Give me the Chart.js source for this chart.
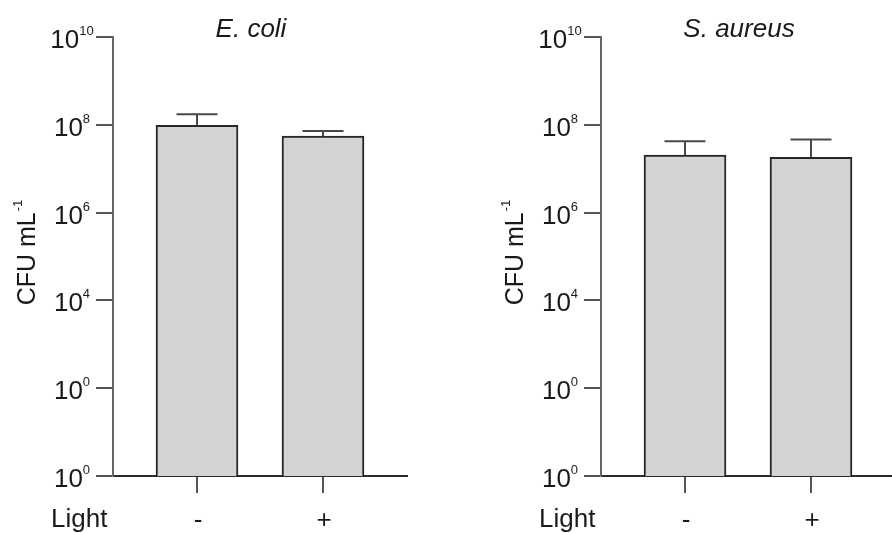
<!DOCTYPE html>
<html>
<head>
<meta charset="utf-8">
<script src="https://cdn.jsdelivr.net/npm/chart.js@4.4.1/dist/chart.umd.min.js"></script>
<style>
  html, body { margin: 0; padding: 0; background: #fff; }
  body { width: 892px; height: 533px; overflow: hidden; position: relative; }
  .panel { position: absolute; top: 0; width: 488px; height: 533px; }
</style>
</head>
<body>
<div class="panel" style="left:0"><canvas id="ecoliChart" width="488" height="533"></canvas></div>
<div class="panel" style="left:488px"><canvas id="aureusChart" width="488" height="533"></canvas></div>
<script>
  // values
  const lightLabels = ['-', '+'];
  const lightPositions = [0, 1];
  const ecoliMeans = [9.7e7, 5.5e7];
  const ecoliErrTops = [1.73e8, 7.2e7];
  const aureusMeans = [2.05e7, 1.82e7];
  const aureusErrTops = [4.2e7, 4.6e7];
  const yTickValues = [1, 1e2, 1e4, 1e6, 1e8, 1e10];
  const yTickExponents = ['0', '0', '4', '6', '8', '10'];

  const FONT = '"Liberation Sans", Arial, Helvetica, sans-serif';
  const TEXT = '#1a1a1a';

  // draws the tick labels with superscripts, axis titles and error bars
  const panelText = {
    id: 'panelText',
    afterDraw(chart, args, opts) {
      const ctx = chart.ctx;
      const y = chart.scales.y;
      const x = chart.scales.x;
      ctx.save();

      // error bars (upper only)
      const meta = chart.getDatasetMeta(0);
      ctx.strokeStyle = '#484848';
      ctx.lineWidth = 2;
      meta.data.forEach((bar, i) => {
        const top = y.getPixelForValue(opts.errTops[i]);
        ctx.beginPath();
        ctx.moveTo(bar.x, bar.y);
        ctx.lineTo(bar.x, top);
        ctx.moveTo(bar.x - 20.5, top);
        ctx.lineTo(bar.x + 20.5, top);
        ctx.stroke();
      });

      ctx.fillStyle = TEXT;
      ctx.textBaseline = 'alphabetic';
      ctx.textAlign = 'left';

      // y tick labels 10^n
      yTickValues.forEach((v, i) => {
        const py = y.getPixelForValue(v);
        ctx.font = '13px ' + FONT;
        const ew = ctx.measureText(yTickExponents[i]).width;
        ctx.font = '26px ' + FONT;
        const bw = ctx.measureText('10').width;
        const start = 72 - (bw + ew) / 2;
        ctx.fillText('10', start, py + 11);
        ctx.font = '13px ' + FONT;
        ctx.fillText(yTickExponents[i], start + bw, py - 2);
      });

      // x tick labels
      ctx.font = '26px ' + FONT;
      ctx.textAlign = 'center';
      lightPositions.forEach((v, i) => {
        ctx.fillText(lightLabels[i], x.getPixelForValue(v) + 1, 528);
      });
      ctx.textAlign = 'left';
      ctx.fillText('Light', 51, 527);

      // y axis title
      ctx.save();
      ctx.font = '25px ' + FONT;
      const mw = ctx.measureText('CFU mL').width;
      ctx.font = '13px ' + FONT;
      const sw = ctx.measureText('-1').width;
      ctx.translate(35, 253 + (mw + sw) / 2);
      ctx.rotate(-Math.PI / 2);
      ctx.font = '25px ' + FONT;
      ctx.fillText('CFU mL', 0, 0);
      ctx.font = '13px ' + FONT;
      ctx.fillText('-1', mw + 1, -13);
      ctx.restore();

      // panel title
      ctx.font = 'italic 26px ' + FONT;
      ctx.textAlign = 'center';
      ctx.fillText(opts.title, 251, 37);

      ctx.restore();
    }
  };

  function makePanel(id, title, means, errTops) {
    const ctx = document.getElementById(id).getContext('2d');
    return new Chart(ctx, {
      type: 'bar',
      data: {
        datasets: [{
          data: lightPositions.map((p, i) => ({ x: p, y: means[i] })),
          backgroundColor: '#d3d3d3',
          borderColor: '#262626',
          borderWidth: 2,
          barThickness: 82
        }]
      },
      options: {
        responsive: false,
        animation: false,
        layout: { padding: { left: 0, top: 37, right: 81, bottom: 0 } },
        scales: {
          x: {
            type: 'linear',
            min: -0.6667,
            max: 1.6667,
            offset: false,
            afterBuildTicks: (s) => { s.ticks = lightPositions.map(v => ({ value: v })); },
            afterFit: (s) => { s.height = 57; },
            ticks: { display: false },
            grid: { offset: false, drawOnChartArea: false, drawTicks: true, tickLength: 17, color: '#555', lineWidth: 2 },
            border: { color: '#2b2b2b', width: 2 }
          },
          y: {
            type: 'logarithmic',
            min: 1,
            max: 1e10,
            afterBuildTicks: (s) => { s.ticks = yTickValues.map(v => ({ value: v })); },
            afterFit: (s) => { s.width = 113; },
            ticks: { display: false },
            grid: { drawOnChartArea: false, drawTicks: true, tickLength: 17, color: '#555', lineWidth: 2 },
            border: { color: '#666', width: 2 }
          }
        },
        plugins: {
          legend: { display: false },
          tooltip: { enabled: false },
          panelText: { title: title, errTops: errTops }
        }
      },
      plugins: [panelText]
    });
  }

  makePanel('ecoliChart', 'E. coli', ecoliMeans, ecoliErrTops);
  makePanel('aureusChart', 'S. aureus', aureusMeans, aureusErrTops);
</script>
</body>
</html>
